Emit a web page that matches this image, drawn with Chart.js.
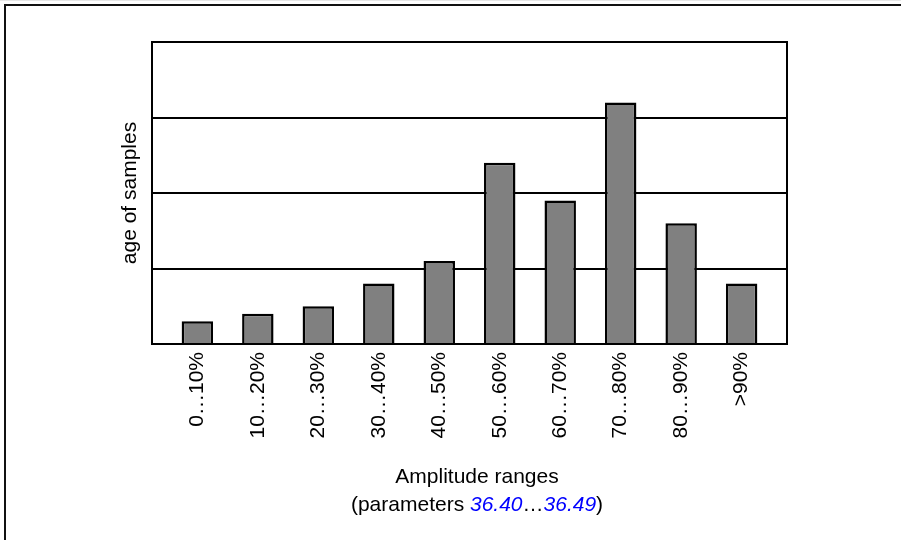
<!DOCTYPE html>
<html>
<head>
<meta charset="utf-8">
<script src="https://cdn.jsdelivr.net/npm/chart.js@4/dist/chart.umd.min.js"></script>
<style>
    body { margin: 0; background: #fff; }
    .wrap { position: relative; width: 901px; height: 540px; overflow: hidden; }
    .frame {
        position: absolute; left: 4px; top: 4px; right: -2px; bottom: -2px;
        border-left: 2px solid #111; border-top: 2px solid #111;
        pointer-events: none;
    }
    .topline { position: absolute; left: 0; top: 0; width: 901px; height: 1px; background: #e6e6e6; }
</style>
</head>
<body>
<div class="wrap">
    <canvas id="histo" width="901" height="540"></canvas>
    <div class="topline"></div>
    <div class="frame"></div>
</div>
<script>
const categories = ["0…10%", "10…20%", "20…30%", "30…40%", "40…50%", "50…60%", "60…70%", "70…80%", "80…90%", ">90%"];
const samples = [3, 4, 5, 8, 11, 24, 19, 32, 16, 8];
const yTicks = [0, 10, 20, 30, 40];

const FONT = "'Liberation Sans', Arial, sans-serif";

// closes the plot box (top and right edges) and writes the two-line x title
const boxAndTitle = {
    id: "boxAndTitle",
    afterDraw(chart) {
        const ctx = chart.ctx;
        const area = chart.chartArea;
        ctx.save();
        ctx.strokeStyle = "#000";
        ctx.lineWidth = 2;
        ctx.strokeRect(area.left, area.top, area.right - area.left, area.bottom - area.top);

        const cx = 477;
        ctx.fillStyle = "#000";
        ctx.textBaseline = "alphabetic";
        ctx.textAlign = "center";
        ctx.font = "21px " + FONT;
        ctx.fillText("Amplitude ranges", cx, 483);

        // second line mixes black text and blue italic parameter numbers
        const parts = [
            { t: "(parameters ", c: "#000", f: "21px " + FONT },
            { t: "36.40", c: "#0000ff", f: "italic 21px " + FONT },
            { t: "…", c: "#000", f: "21px " + FONT },
            { t: "36.49", c: "#0000ff", f: "italic 21px " + FONT },
            { t: ")", c: "#000", f: "21px " + FONT }
        ];
        let total = 0;
        parts.forEach(p => { ctx.font = p.f; p.w = ctx.measureText(p.t).width; total += p.w; });
        let x = cx - total / 2;
        ctx.textAlign = "left";
        parts.forEach(p => {
            ctx.font = p.f;
            ctx.fillStyle = p.c;
            ctx.fillText(p.t, x, 511);
            x += p.w;
        });
        ctx.restore();
    }
};

const histo = document.querySelector("#histo");
new Chart(histo, {
    type: "bar",
    data: {
        datasets: [{
            data: categories.map((c, i) => ({ x: i, y: samples[i] })),
            backgroundColor: "#808080",
            borderColor: "#000",
            borderWidth: 2.5,
            borderSkipped: "bottom",
            categoryPercentage: 1,
            barPercentage: 0.52
        }]
    },
    options: {
        responsive: false,
        animation: false,
        devicePixelRatio: 1,
        layout: { padding: { top: 42, right: 114, bottom: 0, left: 0 } },
        plugins: { legend: { display: false }, tooltip: { enabled: false } },
        scales: {
            x: {
                type: "linear",
                offset: false,
                min: -0.75,
                max: 9.75,
                afterBuildTicks: scale => { scale.ticks = categories.map((c, i) => ({ value: i })); },
                afterFit: scale => { scale.height = 196; },
                grid: { display: false, drawTicks: false, offset: false },
                border: { display: true, color: "#000", width: 2 },
                ticks: {
                    autoSkip: false,
                    minRotation: 90,
                    maxRotation: 90,
                    padding: 8,
                    color: "#000",
                    font: { family: FONT, size: 21 },
                    callback: v => categories[v]
                }
            },
            y: {
                min: yTicks[0],
                max: yTicks[yTicks.length - 1],
                afterBuildTicks: scale => { scale.ticks = yTicks.map(v => ({ value: v })); },
                afterFit: scale => { scale.width = 152; },
                grid: { color: "#000", lineWidth: 2, drawTicks: false },
                border: { display: true, color: "#000", width: 2 },
                ticks: { display: false },
                title: {
                    display: true,
                    text: "age of samples",
                    color: "#000",
                    font: { family: FONT, size: 21 },
                    padding: { top: 118, bottom: 0 }
                }
            }
        }
    },
    plugins: [boxAndTitle]
});
</script>
</body>
</html>
